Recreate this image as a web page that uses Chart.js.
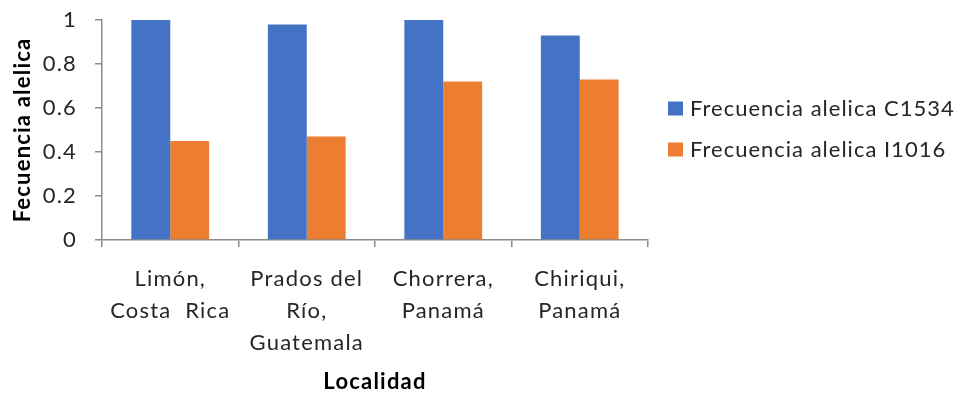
<!DOCTYPE html>
<html>
<head>
<meta charset="utf-8">
<script src="https://cdn.jsdelivr.net/npm/chart.js@4.4.1/dist/chart.umd.min.js"></script>
<style>
  html, body { margin: 0; padding: 0; background: #ffffff; }
  #wrap { width: 957px; height: 393px; }
</style>
</head>
<body>
<div id="wrap"><canvas id="chart" width="957" height="393"></canvas></div>
<script>
// Localities (multi-line category labels)
const categories = [
  ["Limón,", "Costa  Rica"],
  ["Prados del", "Río,", "Guatemala"],
  ["Chorrera,", "Panamá"],
  ["Chiriqui,", "Panamá"]
];
// Allele frequencies per locality
const freqC1534 = [1.0, 0.98, 1.0, 0.93];
const freqI1016 = [0.45, 0.47, 0.72, 0.73];
const seriesNames = ["Frecuencia alelica C1534", "Frecuencia alelica I1016"];
const seriesColors = ["#4472C4", "#ED7D31"];
const yTicks = [0, 0.2, 0.4, 0.6, 0.8, 1];

const FONT = "Lato";
const axisGray = "#8c8c8c";
const textColor = "#262626";
const TRACKING = "1.2px";

// Slightly wider letter spacing for all canvas text
const trackingPlugin = {
  id: "tracking",
  beforeUpdate(chart) { chart.ctx.letterSpacing = TRACKING; },
  beforeDraw(chart) { chart.ctx.letterSpacing = TRACKING; }
};

// Legend drawn to the right of the plot area, vertically centred on it
const sideLegend = {
  id: "sideLegend",
  afterDraw(chart) {
    const { ctx, chartArea } = chart;
    const sets = chart.data.datasets;
    const mid = (chartArea.top + chartArea.bottom) / 2 - 1;
    const rowGap = 41;
    const x = chartArea.right + 20;
    ctx.save();
    ctx.letterSpacing = "1px";
    ctx.font = "22px " + FONT;
    ctx.textBaseline = "middle";
    ctx.textAlign = "left";
    sets.forEach((ds, i) => {
      const y = mid + (i - (sets.length - 1) / 2) * rowGap;
      ctx.fillStyle = ds.backgroundColor;
      ctx.fillRect(x, y - 7, 15, 14);
      ctx.fillStyle = textColor;
      ctx.fillText(ds.label, x + 22, y);
    });
    ctx.restore();
  }
};

new Chart(document.getElementById("chart"), {
  type: "bar",
  data: {
    labels: categories,
    datasets: [
      { label: seriesNames[0], data: freqC1534, backgroundColor: seriesColors[0] },
      { label: seriesNames[1], data: freqI1016, backgroundColor: seriesColors[1] }
    ]
  },
  plugins: [trackingPlugin, sideLegend],
  options: {
    responsive: false,
    animation: false,
    categoryPercentage: 0.57,
    barPercentage: 1.0,
    layout: { padding: { top: 20, right: 309, bottom: 0, left: 2 } },
    plugins: {
      tooltip: { enabled: false },
      legend: { display: false }
    },
    scales: {
      x: {
        grid: {
          drawOnChartArea: false,
          drawTicks: true,
          tickLength: 7,
          color: axisGray,
          lineWidth: 1.5
        },
        border: { display: true, color: axisGray, width: 1.5 },
        ticks: {
          color: textColor,
          padding: 16,
          maxRotation: 0,
          autoSkip: false,
          font: { family: FONT, size: 22, lineHeight: 1.45 }
        },
        title: {
          display: true,
          text: "Localidad",
          color: "#000000",
          padding: { top: 0, bottom: 0 },
          font: { family: FONT, size: 22, weight: "bold", lineHeight: 1.0 }
        },
        afterFit(scale) { scale.height = 153; }
      },
      y: {
        min: 0,
        max: 1,
        afterBuildTicks(scale) { scale.ticks = yTicks.map(v => ({ value: v })); },
        grid: {
          drawOnChartArea: false,
          drawTicks: true,
          tickLength: 7,
          color: axisGray,
          lineWidth: 1.5
        },
        border: { display: true, color: axisGray, width: 1.5 },
        ticks: {
          color: textColor,
          padding: 18,
          font: { family: FONT, size: 22 },
          callback: v => String(Math.round(v * 10) / 10)
        },
        title: {
          display: true,
          text: "Fecuencia alelica",
          color: "#000000",
          padding: { top: 8, bottom: 8 },
          font: { family: FONT, size: 22, weight: "bold", lineHeight: 1.2 }
        },
        afterFit(scale) {
          scale.width = 100;
          scale.paddingTop = 0;
          scale.paddingBottom = 0;
        }
      }
    }
  }
});
</script>
</body>
</html>
